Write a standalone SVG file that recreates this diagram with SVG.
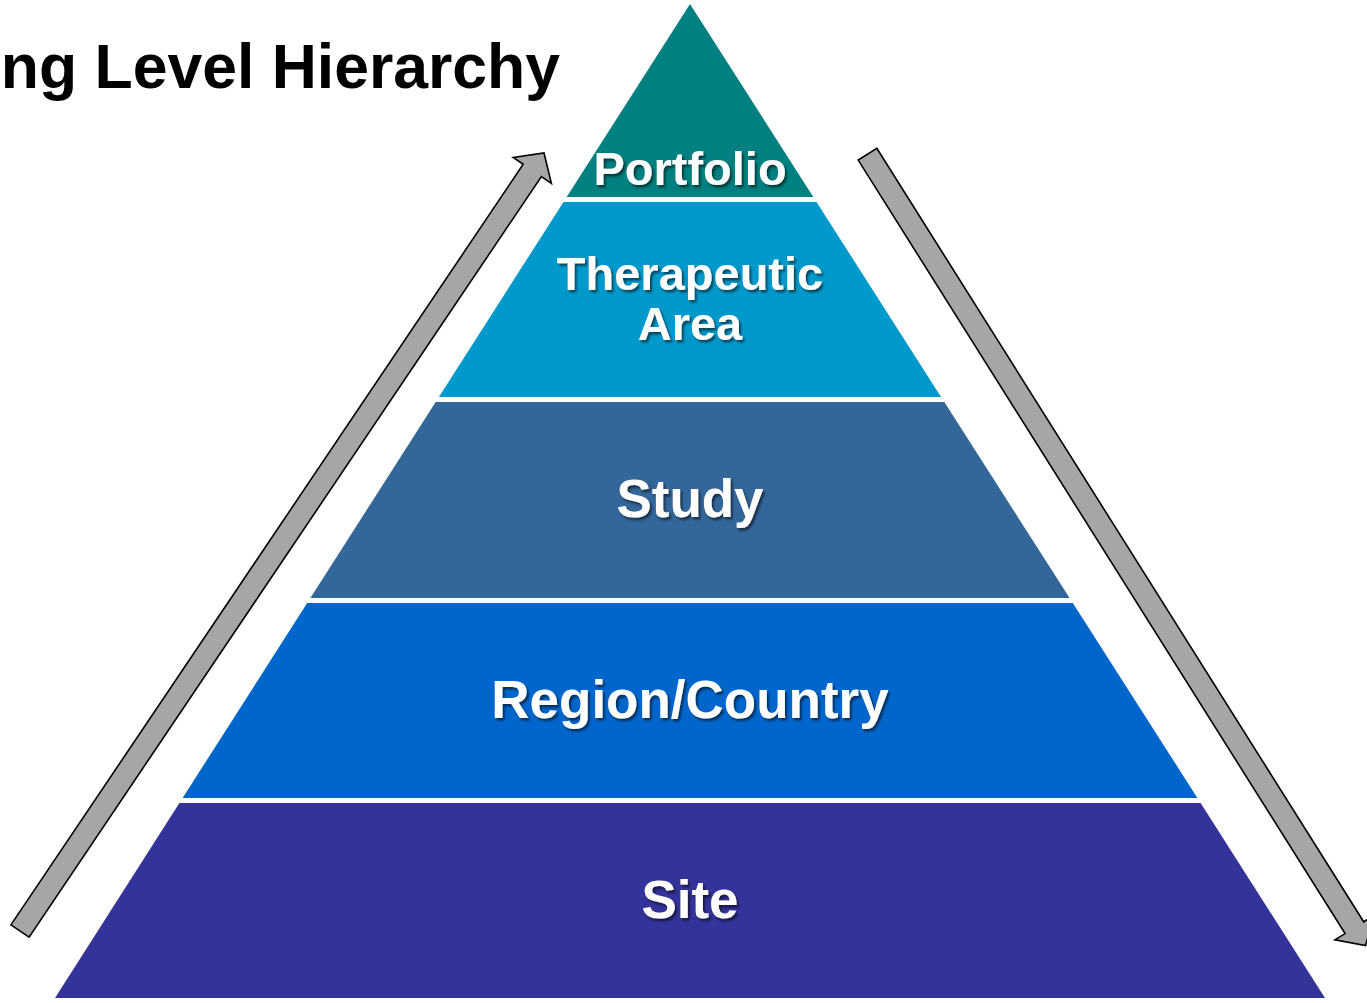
<svg xmlns="http://www.w3.org/2000/svg" width="1367" height="1003" viewBox="0 0 1367 1003">
  <defs>
    <filter id="shadow" x="-10%" y="-20%" width="130%" height="150%">
      <feDropShadow dx="2" dy="2.5" stdDeviation="1.2" flood-color="#000" flood-opacity="0.55"/>
    </filter>
  </defs>
  <style>
    .lbl { font-family: "Liberation Sans", Arial, sans-serif; font-weight: bold; fill: #ffffff; text-anchor: middle; filter: url(#shadow); }
    .title { font-family: "Liberation Sans", Arial, sans-serif; font-weight: bold; fill: #000000; }
    .arrow { fill: #a6a6a6; stroke: #000000; stroke-width: 1.6; stroke-linejoin: miter; }
  </style>
  <rect width="1367" height="1003" fill="#ffffff"/>

  <text class="title" x="560" y="88" font-size="62.5" text-anchor="end">ng Level Hierarchy</text>

  <g id="connectors">
    <polygon class="arrow" points="10.9,924.9 523.2,164.3 513.2,157.5 544,153 551.4,183.3 541.4,176.5 29.1,937.1"/>
    <polygon class="arrow" points="876.8,148.3 1363.7,921.8 1373.9,915.4 1365.6,945.5 1334.9,939.9 1345.1,933.6 858.2,160.1"/>
  </g>

  <g id="portfolio">
    <polygon points="690,4 813.3,197 566.7,197" fill="#008080"/>
    <text class="lbl" x="690" y="185" font-size="47">Portfolio</text>
  </g>
  <g id="therapeutic-area">
    <polygon points="563.5,202 816.5,202 941.1,397 438.9,397" fill="#0099cc"/>
    <text class="lbl" x="690" y="290" font-size="47">Therapeutic</text>
    <text class="lbl" x="690" y="340" font-size="47">Area</text>
  </g>
  <g id="study">
    <polygon points="435.7,402 944.3,402 1069.6,598 310.4,598" fill="#336699"/>
    <text class="lbl" x="690" y="517" font-size="53">Study</text>
  </g>
  <g id="region-country">
    <polygon points="307.2,603 1072.8,603 1197.4,798 182.6,798" fill="#0066cc"/>
    <text class="lbl" x="690" y="718" font-size="53">Region/Country</text>
  </g>
  <g id="site">
    <polygon points="179.4,803 1200.6,803 1325,998 55,998" fill="#333399"/>
    <text class="lbl" x="690" y="918" font-size="53">Site</text>
  </g>
</svg>
